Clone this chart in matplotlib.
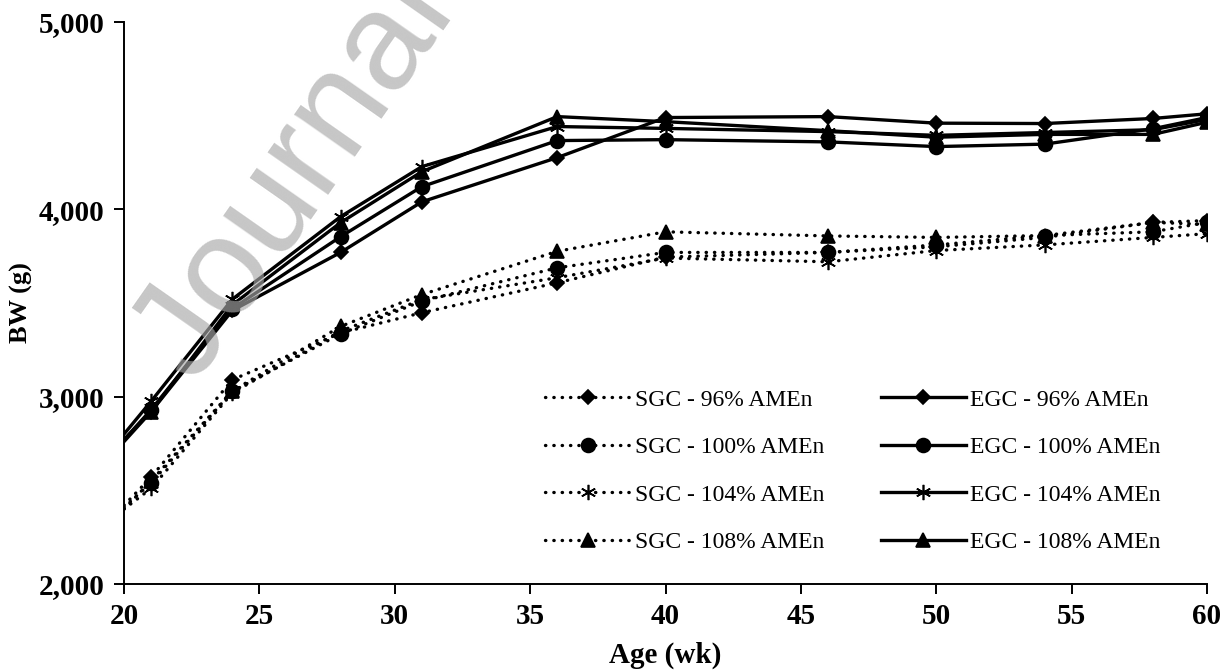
import matplotlib
matplotlib.use('Agg')
import matplotlib.pyplot as plt
from matplotlib.ticker import FuncFormatter

plt.rcParams['font.family'] = ['Liberation Serif', 'DejaVu Serif']

# age in weeks; the wk 20 value is where the lines enter the axes (no marker there)
WEEKS = [20, 21, 24, 28, 31, 36, 40, 46, 50, 54, 58, 60]

SGC_96 = [2420, 2570, 3090, 3340, 3448, 3608, 3745, 3770, 3800, 3850, 3930, 3940]
SGC_100 = [2410, 2540, 3028, 3335, 3510, 3688, 3770, 3770, 3810, 3860, 3880, 3930]
SGC_104 = [2400, 2510, 3020, 3350, 3518, 3635, 3740, 3720, 3780, 3810, 3850, 3870]
SGC_108 = [2400, 2550, 3030, 3375, 3545, 3776, 3880, 3858, 3850, 3860, 3930, 3920]

EGC_96 = [2760, 2920, 3460, 3770, 4040, 4276, 4490, 4495, 4460, 4458, 4485, 4510]
EGC_100 = [2770, 2930, 3470, 3854, 4121, 4367, 4372, 4360, 4335, 4348, 4430, 4490]
EGC_104 = [2800, 2975, 3520, 3961, 4228, 4442, 4432, 4415, 4395, 4410, 4425, 4480]
EGC_108 = [2770, 2920, 3490, 3929, 4201, 4495, 4468, 4420, 4385, 4400, 4400, 4465]

SERIES = [
    ('SGC - 96% AMEn', SGC_96, 'D', 7.5),
    ('SGC - 100% AMEn', SGC_100, 'o', 10),
    ('SGC - 104% AMEn', SGC_104, (6, 2, 0), 11),
    ('SGC - 108% AMEn', SGC_108, '^', 10),
    ('EGC - 96% AMEn', EGC_96, 'D', 7.5),
    ('EGC - 100% AMEn', EGC_100, 'o', 10),
    ('EGC - 104% AMEn', EGC_104, (6, 2, 0), 11),
    ('EGC - 108% AMEn', EGC_108, '^', 10),
]

fig = plt.figure(figsize=(12.32, 6.72), dpi=100)
ax = fig.add_axes([124 / 1232, 1 - 584 / 672, (1207 - 124) / 1232, (584 - 22) / 672])

for label, values, marker, ms in SERIES:
    if label.startswith('SGC'):
        ls = (0, (0.1, 2.4))
    else:
        ls = '-'
    ax.plot(WEEKS, values, color='black', linestyle=ls, linewidth=2.4,
            dash_capstyle='round', marker=marker, markersize=ms,
            markeredgewidth=1.2, markevery=slice(1, None), label=label)

ax.set_xlim(20, 60)
ax.set_ylim(2000, 5000)
ax.set_xticks(range(20, 61, 5))
ax.set_yticks(range(2000, 5001, 1000))
ax.yaxis.set_major_formatter(FuncFormatter(lambda v, p: f'{int(v):,}'))

for side in ['top', 'right']:
    ax.spines[side].set_visible(False)
for side in ['left', 'bottom']:
    ax.spines[side].set_linewidth(1.4)
ax.tick_params(direction='out', length=7, width=1.4, labelsize=21, pad=7)
for t in ax.get_xticklabels() + ax.get_yticklabels():
    t.set_fontweight('bold')

ax.set_xlabel('Age (wk)', fontsize=21, fontweight='bold', labelpad=8)
ax.set_ylabel('BW (g)', fontsize=19, fontweight='bold', labelpad=4)

ax.legend(ncol=2, frameon=False, fontsize=17, loc='upper left',
          bbox_to_anchor=(545 / 1232, 1 - 389 / 672), bbox_transform=fig.transFigure,
          borderaxespad=0, borderpad=0, handlelength=3.6, handletextpad=0.2,
          columnspacing=2.4, labelspacing=1.1)

# faint watermark of the source page
fig.text(195 / 1232, 1 - 385 / 672, 'Journal Pre-proof', fontsize=100,
         family='Liberation Sans', color='#a8a8a8', alpha=0.65,
         rotation=55, rotation_mode='anchor', ha='left', va='baseline', zorder=10)

fig.savefig('out.png', dpi=100)
